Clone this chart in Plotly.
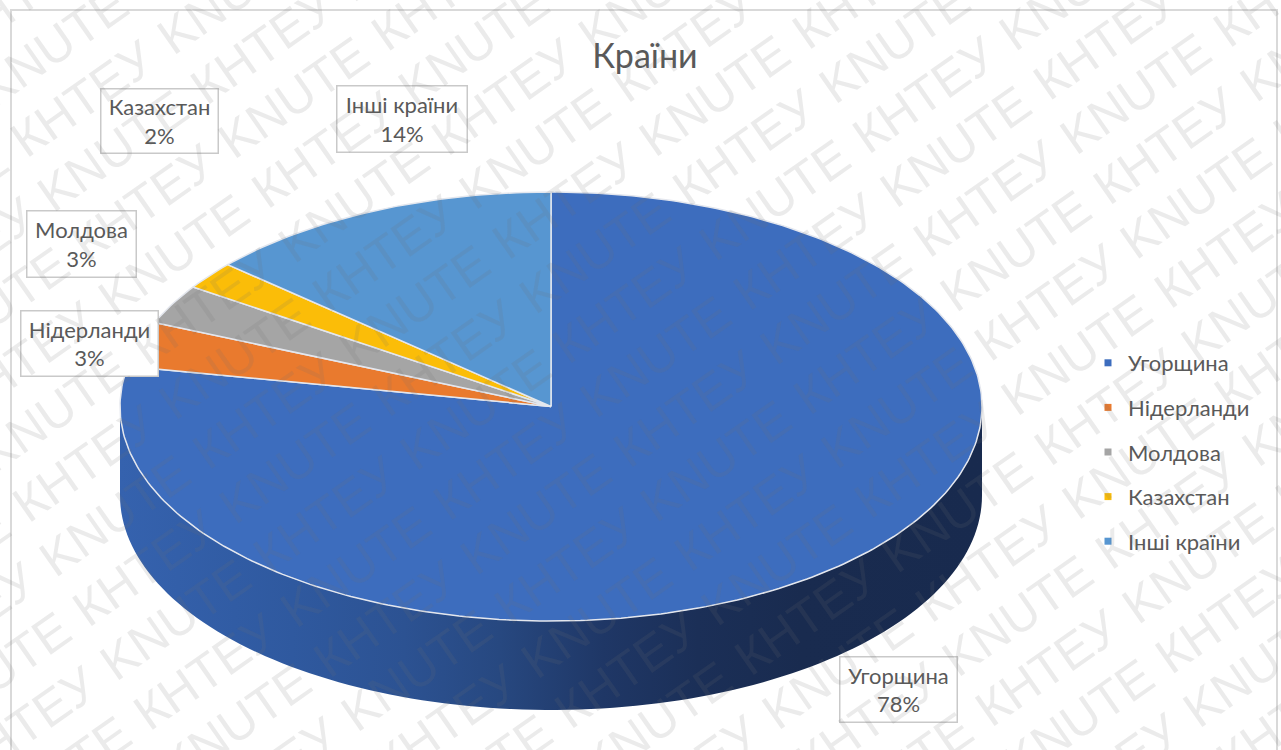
import numpy as np
import plotly.graph_objects as go

# chart data
TITLE = "Країни"
COUNTRIES = ["Угорщина", "Нідерланди", "Молдова", "Казахстан", "Інші країни"]
SHARES = [78.0, 3.4, 3.0, 2.1, 13.5]
COLORS = ["#3d6dbe", "#e97a2e", "#a5a5a5", "#fbbd08", "#5796d1"]
WATERMARK_WORDS = ["КНТЕУ", "KNUTE"]

# page and pie geometry, in pixels
WIDTH, HEIGHT = 1281, 750
CX, CY, RX, RY = 551, 406.5, 431, 214.5
DEPTH = 89
FONT = "Lato, 'Open Sans', sans-serif"
TEXT_COLOR = "#595959"

# label boxes: left, top, right, bottom
LABEL_BOXES = [
    (839, 656, 957, 722),
    (20, 310, 158, 376),
    (26, 210, 136, 277),
    (100, 88, 218, 153),
    (336, 85, 467, 152),
]


def ellipse_point(angle):
    # angle in degrees, clockwise from 12 o'clock
    rad = np.radians(angle)
    return CX + RX * np.sin(rad), CY - RY * np.cos(rad)


fig = go.Figure()

# front wall of the pie, only the lower half of the rim is visible
front = np.linspace(90, 270, 120)
fx, fy = ellipse_point(front)
fig.add_trace(
    go.Scatter(
        x=np.concatenate([fx, fx[::-1]]),
        y=np.concatenate([fy, fy[::-1] + DEPTH]),
        mode="none",
        fill="toself",
        fillgradient=dict(
            type="horizontal",
            start=120,
            stop=983,
            colorscale=[
                [0.0, "#3562ae"],
                [0.2, "#2f599f"],
                [0.33, "#2c5292"],
                [0.44, "#274880"],
                [0.56, "#1f3766"],
                [0.67, "#1b2f57"],
                [0.79, "#192b4f"],
                [1.0, "#182a4e"],
            ],
        ),
        showlegend=False,
        hoverinfo="skip",
    )
)

# top face, one wedge per country
start = 0.0
for name, share, color in zip(COUNTRIES, SHARES, COLORS):
    end = start + share * 3.6
    arc = np.linspace(start, end, max(int(share * 4), 6))
    ax, ay = ellipse_point(arc)
    fig.add_trace(
        go.Scatter(
            x=np.concatenate([[CX], ax, [CX]]),
            y=np.concatenate([[CY], ay, [CY]]),
            mode="lines",
            line=dict(color="#e4e7ee", width=1.5),
            fill="toself",
            fillcolor=color,
            name=name,
            showlegend=False,
            hoverinfo="skip",
        )
    )
    start = end

# legend entries
for name, color in zip(COUNTRIES, COLORS):
    fig.add_trace(
        go.Scatter(
            x=[None],
            y=[None],
            mode="markers",
            marker=dict(symbol="square", size=7, color=color),
            name=name,
            legendgroup=name,
        )
    )

annotations = []

# data labels
for name, share, box in zip(COUNTRIES, SHARES, LABEL_BOXES):
    left, top, right, bottom = box
    annotations.append(
        dict(
            x=(left + right) / 2,
            y=(top + bottom) / 2,
            xref="x",
            yref="y",
            text=f"{name}<br>{round(share)}%",
            showarrow=False,
            width=right - left - 2,
            height=bottom - top - 2,
            borderpad=0,
            align="center",
            valign="middle",
            bgcolor="white",
            bordercolor="#c9c9c9",
            borderwidth=1.5,
            font=dict(family=FONT, size=22, color=TEXT_COLOR),
        )
    )

# watermark over everything, alternating words along rotated rows
theta = np.radians(35)
u = np.array([np.cos(theta), -np.sin(theta)])
n = np.array([np.sin(theta), np.cos(theta)])
origin = np.array([1105.0, 42.0])
for row in range(-32, 32):
    for col in range(-16, 16):
        px = origin + u * (183 * col - 5 * row) + n * 60 * row
        if -110 < px[0] < WIDTH + 110 and -110 < px[1] < HEIGHT + 110:
            annotations.append(
                dict(
                    x=px[0] / WIDTH,
                    y=1 - px[1] / HEIGHT,
                    xref="paper",
                    yref="paper",
                    xanchor="center",
                    yanchor="middle",
                    text=WATERMARK_WORDS[(row + col) % 2],
                    showarrow=False,
                    textangle=-35,
                    font=dict(
                        family="'Liberation Sans', sans-serif",
                        size=50,
                        color="rgba(110,110,110,0.14)",
                    ),
                )
            )

fig.update_layout(
    width=WIDTH,
    height=HEIGHT,
    margin=dict(l=0, r=0, t=0, b=0),
    paper_bgcolor="white",
    plot_bgcolor="white",
    title=dict(
        text=TITLE,
        x=645 / WIDTH,
        xanchor="center",
        y=1 - 56 / HEIGHT,
        yanchor="middle",
        font=dict(family=FONT, size=34, color=TEXT_COLOR),
    ),
    xaxis=dict(range=[0, WIDTH], visible=False, fixedrange=True),
    yaxis=dict(range=[HEIGHT, 0], visible=False, fixedrange=True),
    legend=dict(
        x=1088 / WIDTH,
        xanchor="left",
        y=1 - 452 / HEIGHT,
        yanchor="middle",
        tracegroupgap=13,
        itemwidth=30,
        bgcolor="rgba(0,0,0,0)",
        font=dict(family=FONT, size=22, color=TEXT_COLOR),
    ),
    shapes=[
        dict(
            type="rect",
            xref="x",
            yref="y",
            x0=11,
            y0=10,
            x1=1277,
            y1=760,
            line=dict(color="#d9d9d9", width=2),
            layer="below",
        )
    ],
    annotations=annotations,
)

fig.write_html(
    "out.html",
    config={"displayModeBar": False},
    post_script="document.body.style.margin='0';document.body.style.overflow='hidden';",
)
